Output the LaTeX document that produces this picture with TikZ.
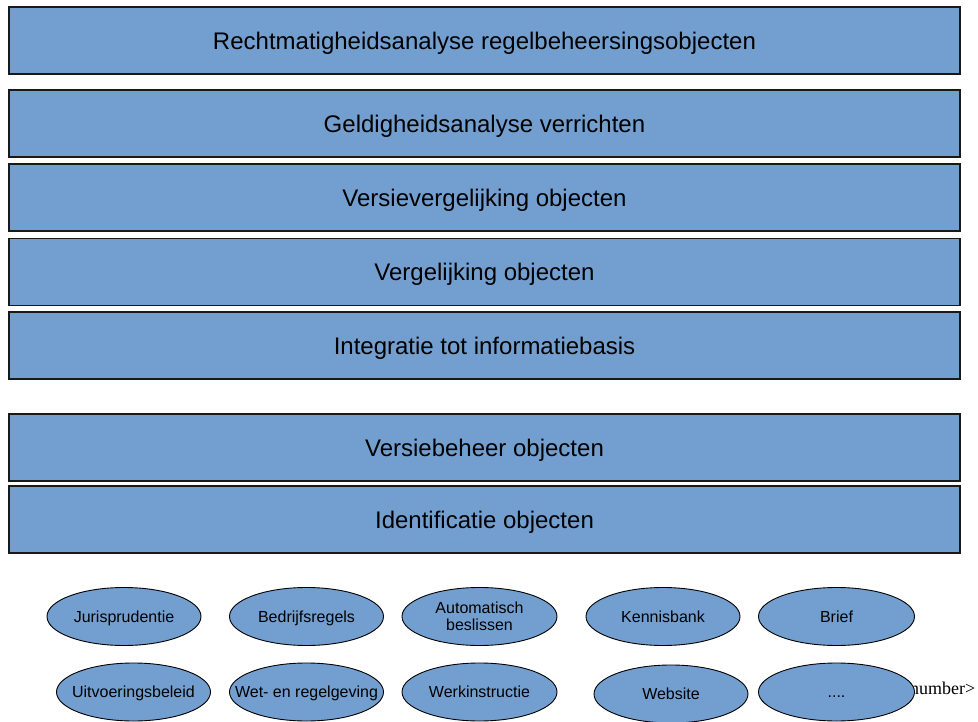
\documentclass[tikz,border=0pt]{standalone}
\usepackage{fontspec}
\setmainfont{Liberation Sans}
\newfontfamily\serifnum{Liberation Serif}
\usetikzlibrary{shapes.geometric}
\definecolor{layerblue}{HTML}{729FCF}
\begin{document}
\begin{tikzpicture}[x=1pt,y=-1pt,
  layer/.style={draw=black!90, line width=1.1pt, fill=layerblue, inner sep=0pt,
    minimum width=951pt, minimum height=67pt, text depth=0pt,
    font=\fontsize{24}{28}\selectfont},
  source/.style={ellipse, draw=black, line width=0.9pt, fill=layerblue,
    inner xsep=-40pt, inner ysep=-12pt,
    minimum width=154pt, minimum height=58pt, align=center,
    font=\fontsize{16}{17}\selectfont},
  onerow/.style={text height=11pt, text depth=0pt}]
\useasboundingbox (0,0) rectangle (978,722);
% stacked analysis layers
\node[layer] (l1) at (484.5,40.5) {Rechtmatigheidsanalyse regelbeheersingsobjecten};
\node[layer] (l2) at (484.5,123.5) {Geldigheidsanalyse verrichten};
\node[layer] (l3) at (484.5,197.5) {Versievergelijking objecten};
\node[layer] (l4) at (484.5,271.75) {Vergelijking objecten};
\node[layer] (l5) at (484.5,345.5) {Integratie tot informatiebasis};
\node[layer] (l6) at (484.5,447.5) {Versiebeheer objecten};
\node[layer] (l7) at (484.5,519.5) {Identificatie objecten};
% leftover placeholder text, partly hidden by the last source
\node[anchor=base west, inner sep=0pt, font=\serifnum\fontsize{18}{20}\selectfont] (num) at (910,694) {number>};
% sources, first row
\node[source, onerow] (s1) at (124,616.5) {Jurisprudentie};
\node[source, onerow] (s2) at (306.5,616.5) {Bedrijfsregels};
\node[source, minimum width=155pt] (s3) at (479.5,616.5) {Automatisch\\beslissen};
\node[source, onerow] (s4) at (663,616.5) {Kennisbank};
\node[source, onerow, minimum width=156pt] (s5) at (836.5,616.5) {Brief};
% sources, second row
\node[source, onerow] (s6) at (133.5,692) {Uitvoeringsbeleid};
\node[source, onerow] (s7) at (306.5,692) {Wet- en regelgeving};
\node[source, onerow, minimum width=155pt] (s8) at (479.5,692) {Werkinstructie};
\node[source, onerow] (s9) at (671,694) {Website};
\node[source, onerow, minimum width=156pt] (s10) at (836.5,692) {....};
\end{tikzpicture}
\end{document}
